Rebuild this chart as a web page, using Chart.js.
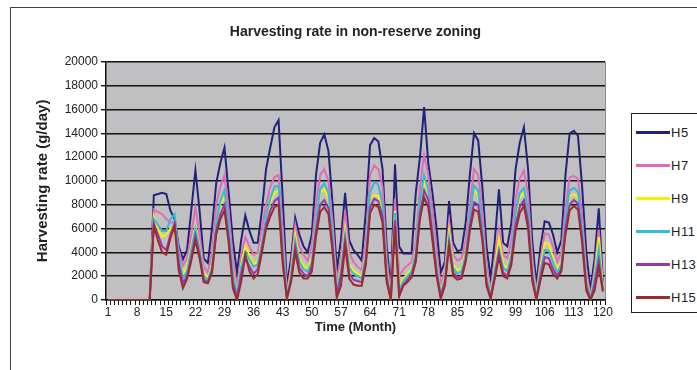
<!DOCTYPE html>
<html>
<head>
<meta charset="utf-8">
<script src="https://cdn.jsdelivr.net/npm/chart.js@4.4.1/dist/chart.umd.min.js"></script>
<style>
  body { margin: 0; background: #fff; }
  #wrap { position: relative; width: 697px; height: 370px; overflow: hidden; }
  #frame { position: absolute; left: 10px; top: 7px; width: 720px; height: 420px; border-left: 1px solid #444; border-top: 1px solid #444; }
  #legend { position: absolute; left: 631px; top: 113px; width: 90px; height: 198px; border: 1px solid #222; background: #fff; }
  .item { position: absolute; left: 4px; height: 16px; display: flex; align-items: center;
          font: 13px 'Liberation Sans', Arial, sans-serif; color: #222; letter-spacing: 0.5px; }
  .swatch { width: 34px; height: 3px; margin-right: 1px; }
</style>
</head>
<body>
<div id="wrap">
  <div id="frame"></div>
  <canvas id="chart" width="697" height="370"></canvas>
  <div id="legend"></div>
</div>
<script>
const months = Array.from({ length: 120 }, (_, i) => String(i + 1));
const labeledMonths = ["1", "8", "15", "22", "29", "36", "43", "50", "57", "64", "71", "78", "85", "92", "99", "106", "113", "120"];

const seriesNames = ["H5", "H7", "H9", "H11", "H13", "H15"];
const seriesColors = ["#22227a", "#e06cb8", "#f2f20a", "#33bcd4", "#9a35b0", "#9c2c2c"];

const h5 = [0,0,0,0,0,0,0,0,0,0,0,
  8800, 8900, 9000, 8900, 7500, 6800, 4500, 3400, 4200,
  7500, 10900, 7500, 3500, 3100, 6000, 9800, 11500, 12800, 9000,
  5000, 2300, 5000, 7100, 5800, 4800, 4800, 7500, 11000, 12800,
  14500, 15100, 8500, 1200, 3500, 6900, 5500, 4500, 4000, 5500,
  10500, 13200, 13900, 12500, 8000, 2500, 5000, 9000, 5000, 4200,
  3800, 3300, 7500, 13000, 13600, 13300, 11000, 4500, 900, 11400,
  4500, 3900, 3900, 3900, 9000, 12000, 16200, 11500, 9000, 6000,
  2300, 3200, 8300, 4800, 4100, 4200, 6500, 10500, 14000, 13400,
  9500, 4500, 1800, 5000, 9300, 4800, 4500, 6500, 11000, 13200,
  14500, 11000, 5000, 1300, 4500, 6600, 6500, 5500, 4000, 5000,
  10500, 14000, 14200, 13800, 9500, 4000, 800, 3500, 7700, 1500];

const h7 = [0,0,0,0,0,0,0,0,0,0,0,
  7600, 7400, 7200, 6800, 6500, 6500, 4200, 2900, 3500,
  5500, 7800, 5500, 2800, 2300, 4000, 8000, 9500, 10500, 7500,
  3500, 1000, 3800, 5300, 4500, 3800, 4000, 6000, 8000, 9500,
  10300, 10500, 6000, 600, 2800, 6300, 4500, 3800, 3300, 4500,
  8000, 10500, 11000, 10000, 6500, 1500, 3500, 7500, 4000, 3200,
  2800, 2500, 5000, 10500, 11300, 11000, 9500, 3500, 400, 8500,
  2000, 2600, 2900, 3200, 5000, 9500, 12200, 10500, 7500, 4000,
  1200, 2500, 6500, 3800, 3300, 3500, 5000, 8000, 11000, 10500,
  7500, 3000, 800, 3500, 5900, 3800, 3500, 5000, 8500, 10200,
  10900, 8800, 3600, 600, 3500, 5600, 5500, 4500, 3200, 4000,
  7800, 10300, 10400, 10200, 7000, 2500, 300, 2600, 5900, 1200];

const h9 = [0,0,0,0,0,0,0,0,0,0,0,
  7000, 6000, 5300, 5500, 6000, 5800, 3500, 2200, 2800,
  4500, 6200, 4500, 2200, 1900, 3000, 6500, 8000, 8800, 6000,
  2500, 500, 3000, 4500, 3800, 3000, 3300, 5000, 6800, 8200,
  9000, 9200, 4500, 300, 2300, 5500, 3500, 2900, 2600, 3500,
  6500, 9000, 9300, 8500, 5300, 800, 2800, 6000, 3000, 2500,
  2200, 2000, 4000, 8500, 8800, 8700, 7500, 2500, 200, 7500,
  1000, 1800, 2200, 2600, 4200, 8000, 10000, 9000, 6000, 3000,
  600, 2000, 5800, 3000, 2500, 2700, 4000, 6800, 9200, 8800,
  6000, 2200, 400, 2800, 5200, 3000, 2700, 4000, 7000, 8600,
  9000, 7200, 2800, 300, 2800, 4800, 4700, 3600, 2600, 3200,
  6500, 8700, 8900, 8600, 5800, 1800, 100, 2000, 5300, 1000];

const h11 = [0,0,0,0,0,0,0,0,0,0,0,
  6800, 6300, 5800, 5800, 6800, 7200, 3800, 1800, 2400,
  4200, 6000, 4300, 2000, 1700, 2800, 6500, 8300, 9200, 6200,
  2300, 400, 2800, 4000, 3400, 2800, 3000, 4800, 7000, 8500,
  9500, 9600, 4500, 300, 2000, 5000, 3200, 2600, 2400, 3200,
  6500, 9300, 9800, 9000, 5300, 700, 2500, 5500, 2700, 2200,
  2000, 1800, 3800, 9000, 9900, 9700, 8000, 2300, 100, 7300,
  800, 1600, 2000, 2400, 4000, 8300, 10500, 9200, 6000, 2800,
  500, 1800, 5200, 2700, 2200, 2400, 3800, 7000, 9600, 9200,
  6200, 2000, 300, 2500, 4300, 2700, 2400, 3800, 7300, 9000,
  9400, 7400, 2600, 200, 2500, 4200, 4100, 3200, 2300, 3000,
  6800, 9200, 9400, 9100, 6000, 1600, 100, 1800, 4300, 900];

const h13 = [0,0,0,0,0,0,0,0,0,0,0,
  6400, 5500, 4500, 4200, 5500, 6400, 3000, 1400, 2000,
  3600, 5400, 3800, 1700, 1500, 2500, 5800, 7200, 8000, 5200,
  1500, 200, 2200, 3500, 2800, 2200, 2600, 4300, 6300, 7500,
  8300, 8600, 3500, 200, 1700, 4500, 2700, 2200, 2000, 2800,
  5800, 8000, 8400, 7700, 4500, 400, 2000, 5000, 2200, 1700,
  1600, 1500, 3300, 7800, 8500, 8300, 7000, 1800, 100, 6700,
  500, 1300, 1700, 2100, 3500, 7200, 9200, 8400, 5500, 2300,
  300, 1500, 4700, 2300, 1900, 2000, 3400, 6200, 8200, 8000,
  5300, 1500, 200, 2000, 4000, 2300, 2000, 3300, 6300, 7800,
  8400, 6600, 2000, 100, 2000, 3600, 3500, 2600, 2000, 2600,
  6000, 8000, 8400, 8100, 5200, 1100, 0, 1300, 3300, 800];

const h15 = [0,0,0,0,0,0,0,0,0,0,0,
  6200, 5000, 4000, 3800, 5200, 6200, 2500, 1000, 1800,
  3300, 5000, 3500, 1500, 1400, 2300, 5500, 6800, 7500, 4800,
  1000, 0, 1500, 3800, 2400, 1800, 2200, 4000, 6000, 7000,
  7800, 8000, 3000, 100, 1500, 4000, 2300, 1800, 1800, 2400,
  5300, 7400, 7800, 7200, 4000, 200, 1200, 4500, 1800, 1300,
  1200, 1200, 3000, 7300, 8000, 7800, 6500, 1500, 0, 6200,
  300, 1200, 1500, 1900, 3200, 6800, 8600, 7800, 5000, 2000,
  100, 1200, 4500, 2000, 1700, 1800, 3200, 5800, 7600, 7400,
  5000, 1200, 100, 1800, 3600, 2000, 1800, 3000, 5800, 7300,
  7900, 6000, 1600, 0, 1700, 3100, 3000, 2200, 1800, 2400,
  5500, 7500, 7900, 7600, 4800, 800, 0, 800, 2800, 700];

const seriesValues = [h5, h7, h9, h11, h13, h15];

const family = "'Liberation Sans', Arial, sans-serif";

const plotBackground = {
  id: "plotBackground",
  beforeDraw(chart) {
    const { ctx, chartArea: a } = chart;
    ctx.save();
    ctx.fillStyle = "#c0c0c2";
    ctx.fillRect(a.left, a.top, a.right - a.left, a.bottom - a.top);
    ctx.strokeStyle = "#8a8a8a";
    ctx.lineWidth = 1;
    ctx.beginPath();
    ctx.moveTo(a.right + 0.5, a.top);
    ctx.lineTo(a.right + 0.5, a.bottom);
    ctx.stroke();
    ctx.restore();
  }
};

new Chart(document.getElementById("chart"), {
  type: "line",
  data: {
    labels: months,
    datasets: seriesNames.map((name, i) => ({
      label: name,
      data: seriesValues[i],
      borderColor: seriesColors[i],
      backgroundColor: seriesColors[i],
      borderWidth: 2,
      pointRadius: 0,
      tension: 0,
      order: seriesNames.length - i
    }))
  },
  options: {
    responsive: false,
    animation: false,
    layout: { padding: { left: 10, right: 92, top: 0, bottom: 26 } },
    plugins: {
      legend: { display: false },
      tooltip: { enabled: false },
      title: {
        display: true,
        fullSize: false,
        text: "Harvesting rate in non-reserve zoning",
        color: "#222",
        font: { family, size: 14, weight: "bold" },
        padding: { top: 24, bottom: 21 }
      }
    },
    scales: {
      x: {
        offset: true,
        grid: { display: true, drawOnChartArea: false, tickLength: 5, color: "#111", offset: true },
        border: { color: "#111", width: 1.5 },
        ticks: {
          autoSkip: false,
          maxRotation: 0,
          padding: 0,
          color: "#222",
          font: { family, size: 12 },
          callback(value) {
            const label = this.getLabelForValue(value);
            return labeledMonths.includes(label) ? label : "";
          }
        },
        title: {
          display: true,
          text: "Time (Month)",
          color: "#222",
          font: { family, size: 13, weight: "bold" },
          padding: { top: 0, bottom: 9 }
        },
        afterFit(scale) { scale.height = 44; }
      },
      y: {
        min: 0,
        max: 20000,
        grid: { color: "#111", lineWidth: 1.4, tickLength: 5 },
        border: { color: "#111", width: 1.5 },
        ticks: {
          stepSize: 2000,
          padding: 3,
          color: "#222",
          font: { family, size: 12 },
          callback: value => String(value)
        },
        title: {
          display: true,
          text: "Harvesting rate (g/day)",
          color: "#222",
          font: { family, size: 15, weight: "bold" },
          padding: { top: 24, bottom: 0 }
        },
        afterFit(scale) { scale.width = 96; }
      }
    }
  },
  plugins: [plotBackground]
});

const legend = document.getElementById("legend");
legend.innerHTML = seriesNames.map((name, i) =>
  `<div class="item" style="top:${10 + i * 33}px"><span class="swatch" style="background:${seriesColors[i]}"></span>${name}</div>`
).join("");
</script>
</body>
</html>
